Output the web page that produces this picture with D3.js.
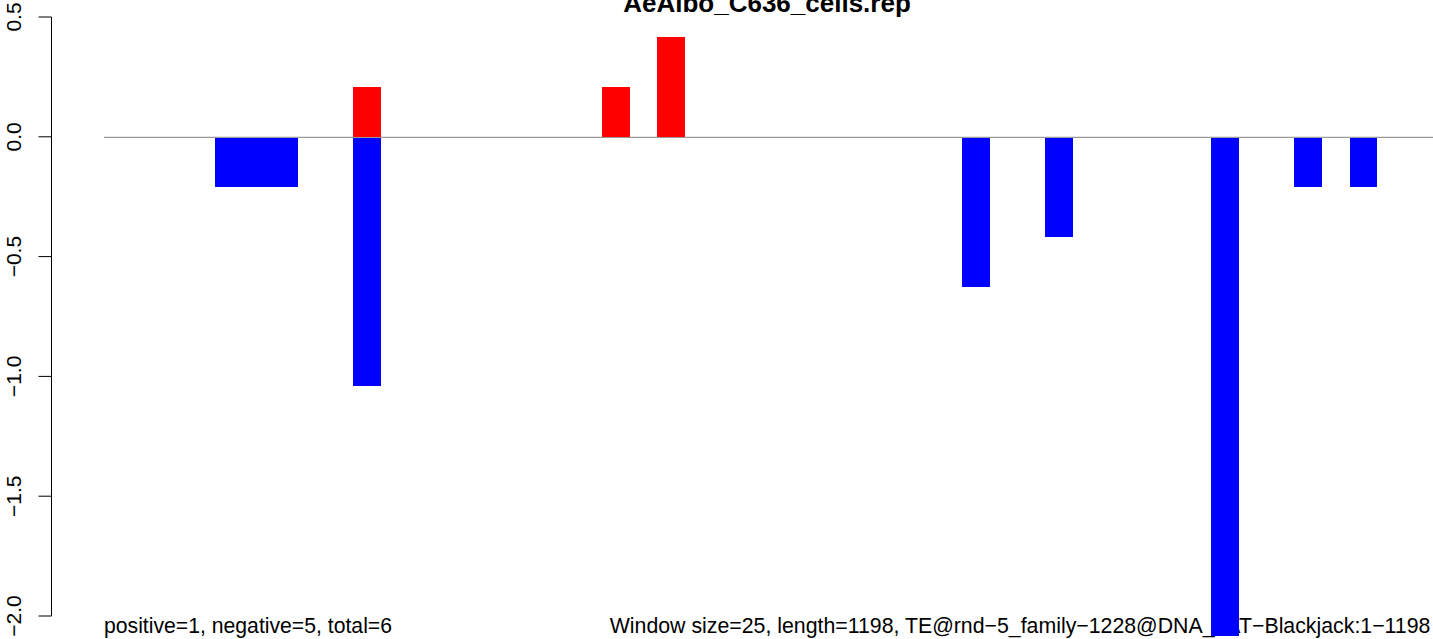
<!DOCTYPE html>
<html>
<head>
<meta charset="utf-8">
<script src="https://cdn.jsdelivr.net/npm/d3@7"></script>
<style>
  html, body { margin: 0; padding: 0; background: white; }
  svg { display: block; }
</style>
</head>
<body>
<script>
// window data (start position in bp, value), window size 25 bp over 1198 bp
var titleText = 'AeAlbo_C636_cells.rep';
var leftNote = 'positive=1, negative=5, total=6';
var rightNote = 'Window size=25, length=1198, TE@rnd\u22125_family\u22121228@DNA_hAT\u2212Blackjack:1\u22121198';
var windowSize = 25;
var seqLength = 1198;

var posStarts = [225, 450, 500];
var posValues = [0.208, 0.208, 0.417];

var negStarts = [100, 125, 150, 225, 775, 850, 1000, 1075, 1125];
var negValues = [-0.208, -0.208, -0.208, -1.042, -0.625, -0.417, -2.083, -0.208, -0.208];

var yTicks = [0.5, 0.0, -0.5, -1.0, -1.5, -2.0];

var width = 1433, height = 639;
var plotLeft = 103.8, plotRight = 1430.4;
var font = '"Liberation Sans", Arial, sans-serif';

var svg = d3.select('body').append('svg')
    .attr('width', width)
    .attr('height', height);

var x = d3.scaleLinear().domain([0, seqLength]).range([plotLeft, plotRight]);
var y = d3.scaleLinear().domain([-2, 0.5]).range([616, 17]);

// notes under the plot (bars are drawn over them)
svg.append('text')
    .attr('x', 104).attr('y', 633)
    .style('font', '21.2px ' + font)
    .attr('fill', '#000')
    .text(leftNote);

svg.append('text')
    .attr('x', plotRight).attr('y', 633)
    .attr('text-anchor', 'end')
    .style('font', '21.3px ' + font)
    .attr('fill', '#000')
    .text(rightNote);

// zero line
svg.append('line')
    .attr('x1', 104).attr('x2', width)
    .attr('y1', y(0) + 0.5).attr('y2', y(0) + 0.5)
    .attr('stroke', '#808080').attr('stroke-width', 1);

svg.append('g').attr('shape-rendering', 'crispEdges').selectAll('rect')
    .data(negStarts.map((s, i) => ({s: s, v: negValues[i]})))
    .join('rect')
    .attr('x', d => Math.round(x(d.s)))
    .attr('width', d => Math.round(x(d.s + windowSize)) - Math.round(x(d.s)))
    .attr('y', Math.round(y(0)) + 1)
    .attr('height', d => Math.round(y(d.v)) - Math.round(y(0)) - 1)
    .attr('fill', '#0000ff');

svg.append('g').attr('shape-rendering', 'crispEdges').selectAll('rect')
    .data(posStarts.map((s, i) => ({s: s, v: posValues[i]})))
    .join('rect')
    .attr('x', d => Math.round(x(d.s)))
    .attr('width', d => Math.round(x(d.s + windowSize)) - Math.round(x(d.s)))
    .attr('y', d => Math.round(y(d.v)))
    .attr('height', d => Math.round(y(0)) - Math.round(y(d.v)))
    .attr('fill', '#ff0000');

// y axis, R style
var axisG = svg.append('g').attr('transform', 'translate(51.5,0)');
axisG.append('line')
    .attr('x1', 0).attr('x2', 0)
    .attr('y1', y(0.5)).attr('y2', y(-2))
    .attr('stroke', '#000');
axisG.selectAll('line.tick')
    .data(yTicks)
    .join('line')
    .attr('class', 'tick')
    .attr('x1', -13).attr('x2', 0)
    .attr('y1', d => y(d)).attr('y2', d => y(d))
    .attr('stroke', '#000');
axisG.selectAll('text')
    .data(yTicks)
    .join('text')
    .attr('transform', d => `translate(-30.5,${y(d)}) rotate(-90)`)
    .attr('text-anchor', 'middle')
    .style('font', '21px ' + font)
    .text(d => d3.format('.1f')(d).replace('-', '\u2212'));

svg.append('text')
    .attr('x', 767).attr('y', 12)
    .attr('text-anchor', 'middle')
    .style('font', 'bold 26px ' + font)
    .text(titleText);
</script>
</body>
</html>
